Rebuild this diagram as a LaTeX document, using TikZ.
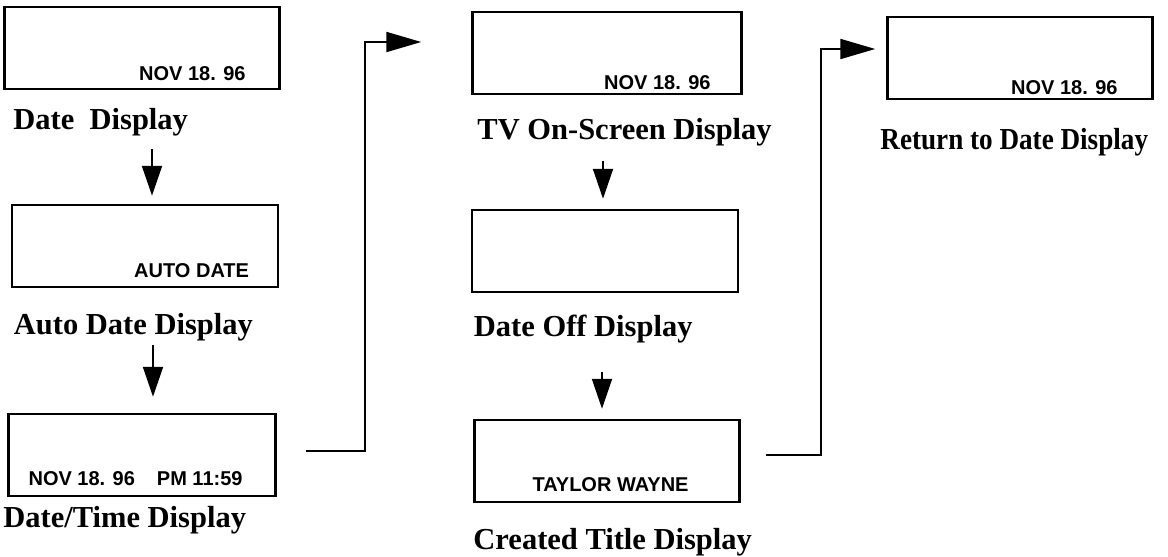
\documentclass[tikz,border=0pt]{standalone}
\usepackage{fontspec}
\setmainfont{Liberation Serif}
\setsansfont{Liberation Sans}
\usetikzlibrary{positioning,arrows.meta}

\begin{document}
\begin{tikzpicture}[x=1pt,y=-1pt,
% first : the style of the screens and captions
    screen/.style={
        rectangle,
        draw,
        line width=2.5pt,
        minimum width=270pt,
        minimum height=82pt
    },
    lcd/.style={
        font=\sffamily\bfseries\fontsize{20}{24}\selectfont,
        inner sep=0pt,
        anchor=base east
    },
    caption/.style={
        font=\bfseries\fontsize{30.5}{33}\selectfont,
        inner sep=0pt,
        anchor=base west
    },
    flow/.style={-{Triangle[length=30pt,width=20pt]}, line width=2pt},
    jump/.style={-{Triangle[length=35pt,width=20pt]}, line width=2pt}
]

\useasboundingbox (0,0) rectangle (1168,557);

% first column
\node[screen, minimum width=275pt] (date) at (142,48) {};
\node[lcd] (datetxt) at ([xshift=-35pt,yshift=10pt]date.south east) {NOV 18. 96};
\node[caption] (datelbl) at ([xshift=10pt,yshift=-39pt]date.south west) {Date\ \ Display};

\node[screen, minimum width=266pt] (auto) at (145,246) {};
\node[lcd] (autotxt) at ([xshift=-30pt,yshift=11pt]auto.south east) {AUTO DATE};
\node[caption] (autolbl) at ([xshift=3pt,yshift=-46pt]auto.south west) {Auto Date Display};

\node[screen, minimum width=267pt] (dt) at (142,455) {};
\node[lcd] (dttxt) at ([xshift=-34pt,yshift=12pt]dt.south east) {NOV 18. 96\hspace{22pt}PM 11:59};
\node[caption] (dtlbl) at ([xshift=-4pt,yshift=-30pt]dt.south west) {Date/Time Display};

% second column
\node[screen, minimum width=269pt] (tv) at (607,53) {};
\node[lcd] (tvtxt) at ([xshift=-32pt,yshift=6pt]tv.south east) {NOV 18. 96};
\node[caption] (tvlbl) at ([xshift=6pt,yshift=-44pt]tv.south west) {TV On-Screen Display};

\node[screen, minimum width=266pt] (off) at (605,251) {};
\node[caption] (offlbl) at ([xshift=3pt,yshift=-43pt]off.south west) {Date Off Display};

\node[screen, minimum width=265pt] (title) at (607,461) {};
\node[lcd] (titletxt) at ([xshift=-52pt,yshift=12pt]title.south east) {TAYLOR WAYNE};
\node[caption] (titlelbl) at ([yshift=-46pt]title.south west) {Created Title Display};

% third column
\node[screen, minimum width=265pt] (ret) at (1020,58) {};
\node[lcd] (rettxt) at ([xshift=-36pt,yshift=6pt]ret.south east) {NOV 18. 96};
\node[caption, xscale=0.89] (retlbl) at ([xshift=-6pt,yshift=-49pt]ret.south west) {Return to Date Display};

% links
\draw[flow] ([xshift=7pt,yshift=-13pt]datelbl.south -| auto.north) -- ([xshift=7pt,yshift=8pt]auto.north);
\draw[flow] ([xshift=11pt,yshift=-4pt]autolbl.south -| dt.north) -- ([xshift=11pt,yshift=16pt]dt.north);
\draw[flow] ([xshift=-2pt,yshift=-15pt]tvlbl.south -| off.north) -- ([xshift=-2pt,yshift=10pt]off.north);
\draw[flow] ([xshift=-5pt,yshift=-29pt]offlbl.south -| title.north) -- ([xshift=-5pt,yshift=10pt]title.north);

\draw[jump] ([xshift=29pt,yshift=4pt]dt.east) -- ++(59,0) |- ([xshift=-50pt,yshift=11pt]tv.west);
\draw[jump] ([xshift=25pt,yshift=6pt]title.east) -- ++(55,0) |- ([xshift=-11pt,yshift=9pt]ret.west);

\end{tikzpicture}
\end{document}
